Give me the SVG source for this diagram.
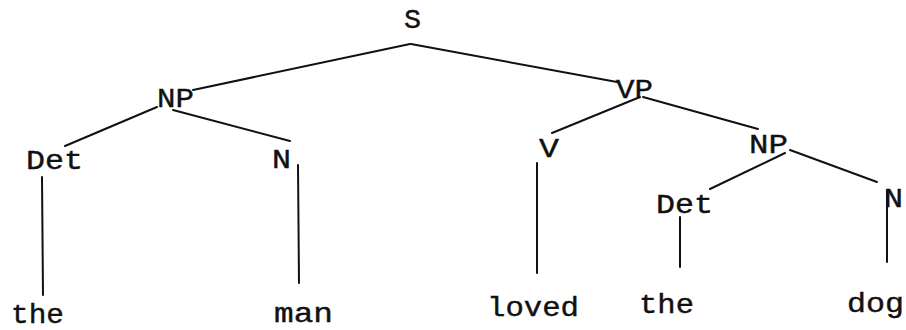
<svg xmlns="http://www.w3.org/2000/svg" width="906" height="330" viewBox="0 0 906 330">
<style>
.bg{fill:#ffffff}
.e{stroke:#111;stroke-width:2;stroke-linecap:round;fill:none}
.t{font-family:"Liberation Mono","Courier New",monospace;font-size:27px;fill:#111;stroke:#111;stroke-width:0.4}
</style>
<rect class="bg" x="0" y="0" width="906" height="330"/>
<g id="connectors">
<line class="e" x1="410" y1="44" x2="193" y2="90"/>
<line class="e" x1="411" y1="44" x2="617" y2="82"/>
<line class="e" x1="157" y1="107" x2="65" y2="146"/>
<line class="e" x1="173" y1="110" x2="290" y2="141"/>
<line class="e" x1="42" y1="177" x2="43" y2="295"/>
<line class="e" x1="298" y1="165" x2="299" y2="283"/>
<line class="e" x1="640" y1="97" x2="552" y2="133"/>
<line class="e" x1="643" y1="97" x2="758" y2="129"/>
<line class="e" x1="537" y1="163" x2="537" y2="273"/>
<line class="e" x1="785" y1="153" x2="710" y2="189"/>
<line class="e" x1="790" y1="150" x2="877" y2="182"/>
<line class="e" x1="680" y1="217" x2="680" y2="267"/>
<line class="e" x1="887" y1="190" x2="887" y2="262"/>
</g>
<g id="node-S"><text class="t" x="404" y="28" textLength="17" lengthAdjust="spacingAndGlyphs">S</text></g>
<g id="node-NP1"><text class="t" x="157" y="107" textLength="37" lengthAdjust="spacingAndGlyphs">NP</text></g>
<g id="node-Det1"><text class="t" x="26" y="169" textLength="57" lengthAdjust="spacingAndGlyphs">Det</text></g>
<g id="node-N1"><text class="t" x="272" y="168" textLength="19" lengthAdjust="spacingAndGlyphs">N</text></g>
<g id="node-the1"><text class="t" x="11" y="323" textLength="53" lengthAdjust="spacingAndGlyphs">the</text></g>
<g id="node-man"><text class="t" x="274" y="322" textLength="59" lengthAdjust="spacingAndGlyphs">man</text></g>
<g id="node-VP"><text class="t" x="616" y="98" textLength="37" lengthAdjust="spacingAndGlyphs">VP</text></g>
<g id="node-V"><text class="t" x="539" y="157" textLength="20" lengthAdjust="spacingAndGlyphs">V</text></g>
<g id="node-loved"><text class="t" x="487" y="316" textLength="92" lengthAdjust="spacingAndGlyphs">loved</text></g>
<g id="node-NP2"><text class="t" x="749" y="153" textLength="39" lengthAdjust="spacingAndGlyphs">NP</text></g>
<g id="node-Det2"><text class="t" x="656" y="213" textLength="57" lengthAdjust="spacingAndGlyphs">Det</text></g>
<g id="node-the2"><text class="t" x="639" y="313" textLength="55" lengthAdjust="spacingAndGlyphs">the</text></g>
<g id="node-N2"><text class="t" x="884" y="207" textLength="19" lengthAdjust="spacingAndGlyphs">N</text></g>
<g id="node-dog"><text class="t" x="847" y="312" textLength="57" lengthAdjust="spacingAndGlyphs">dog</text></g>
</svg>
